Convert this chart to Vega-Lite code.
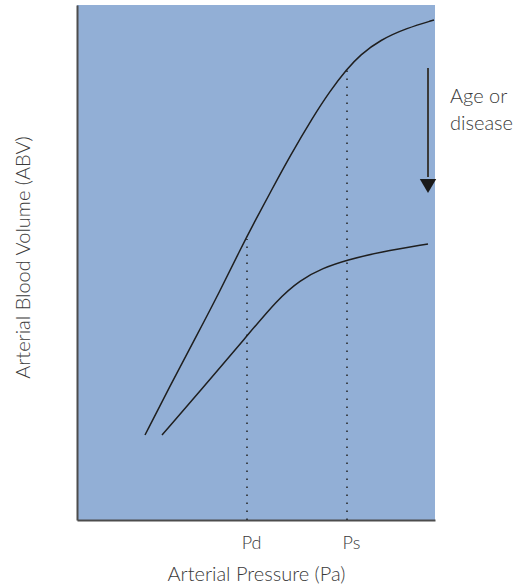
{
  "$schema": "https://vega.github.io/schema/vega-lite/v6.json",
  "width": 358,
  "height": 515,
  "autosize": {"type": "none"},
  "padding": {"left": 77, "top": 5, "right": 88, "bottom": 66},
  "background": "white",
  "config": {
    "view": {"fill": "#92afd6", "stroke": null},
    "font": "Lato"
  },
  "datasets": {
    "curves": [
      {"curve": "healthy", "p": 68, "v": 85},
      {"curve": "healthy", "p": 93, "v": 134},
      {"curve": "healthy", "p": 120, "v": 185},
      {"curve": "healthy", "p": 143, "v": 229},
      {"curve": "healthy", "p": 163, "v": 270},
      {"curve": "healthy", "p": 178, "v": 299},
      {"curve": "healthy", "p": 193, "v": 327},
      {"curve": "healthy", "p": 213, "v": 364},
      {"curve": "healthy", "p": 236, "v": 403},
      {"curve": "healthy", "p": 253, "v": 429},
      {"curve": "healthy", "p": 270, "v": 451},
      {"curve": "healthy", "p": 283, "v": 465},
      {"curve": "healthy", "p": 303, "v": 480},
      {"curve": "healthy", "p": 330, "v": 492},
      {"curve": "healthy", "p": 357, "v": 500},
      {"curve": "aged", "p": 85, "v": 85},
      {"curve": "aged", "p": 123, "v": 129},
      {"curve": "aged", "p": 170, "v": 184},
      {"curve": "aged", "p": 200, "v": 220},
      {"curve": "aged", "p": 223, "v": 240},
      {"curve": "aged", "p": 246, "v": 252},
      {"curve": "aged", "p": 270, "v": 260},
      {"curve": "aged", "p": 303, "v": 268},
      {"curve": "aged", "p": 351, "v": 276}
    ],
    "guides": [
      {"p": 170, "v": 0, "v2": 281},
      {"p": 270, "v": 0, "v2": 451}
    ],
    "arrow": [
      {"p": 351, "v": 452, "v2": 343}
    ],
    "head": [
      {"p": 351, "v": 334}
    ],
    "note": [
      {"p": 373, "v": 433, "label": "Age or\ndisease"}
    ]
  },
  "encoding": {
    "x": {
      "field": "p", "type": "quantitative",
      "scale": {"domain": [0, 358], "nice": false, "zero": false},
      "axis": {
        "values": [170, 270],
        "labelExpr": "datum.value == 170 ? 'Pd' : 'Ps'",
        "ticks": false, "grid": false,
        "domainColor": "#4d4d4d", "domainWidth": 2,
        "labelFontSize": 18, "labelColor": "#3a3a3a", "labelPadding": 14, "labelOffset": 4,
        "labelFont": "Lato", "labelFontWeight": 300,
        "title": "Arterial Pressure (Pa)",
        "titleFont": "Lato", "titleFontSize": 20, "titleFontWeight": 300, "titleColor": "#3a3a3a",
        "titleX": 179, "titleY": 54, "titleAlign": "center", "titleBaseline": "middle", "titleAnchor": null
      }
    },
    "y": {
      "field": "v", "type": "quantitative",
      "scale": {"domain": [0, 515], "nice": false, "zero": false},
      "axis": {
        "values": [],
        "ticks": false, "grid": false, "labels": false,
        "domainColor": "#4d4d4d", "domainWidth": 2,
        "title": "Arterial Blood Volume (ABV)",
        "titleFont": "Lato", "titleFontSize": 20, "titleFontWeight": 300, "titleColor": "#3a3a3a",
        "titleX": -54, "titleY": 252, "titleAlign": "center", "titleBaseline": "middle", "titleAngle": -90, "titleAnchor": null
      }
    }
  },
  "layer": [
    {
      "data": {"name": "guides"},
      "mark": {"type": "rule", "color": "#222222", "strokeWidth": 1.5, "strokeDash": [1.5, 6.5]},
      "encoding": {"y2": {"field": "v2"}}
    },
    {
      "data": {"name": "curves"},
      "mark": {"type": "line", "color": "#1f1f1f", "strokeWidth": 1.5, "interpolate": "basis"},
      "encoding": {"detail": {"field": "curve"}, "order": {"field": "p", "type": "quantitative"}}
    },
    {
      "data": {"name": "arrow"},
      "mark": {"type": "rule", "color": "#3a3a3a", "strokeWidth": 2},
      "encoding": {"y2": {"field": "v2"}}
    },
    {
      "data": {"name": "head"},
      "mark": {"type": "point", "shape": "triangle-down", "filled": true, "color": "#1a1a1a", "size": 270, "opacity": 1}
    },
    {
      "data": {"name": "note"},
      "mark": {"type": "text", "align": "left", "baseline": "top", "lineBreak": "\n", "lineHeight": 27, "fontSize": 20, "fontWeight": 300, "color": "#3a3a3a", "font": "Lato"},
      "encoding": {"text": {"field": "label"}}
    }
  ]
}
